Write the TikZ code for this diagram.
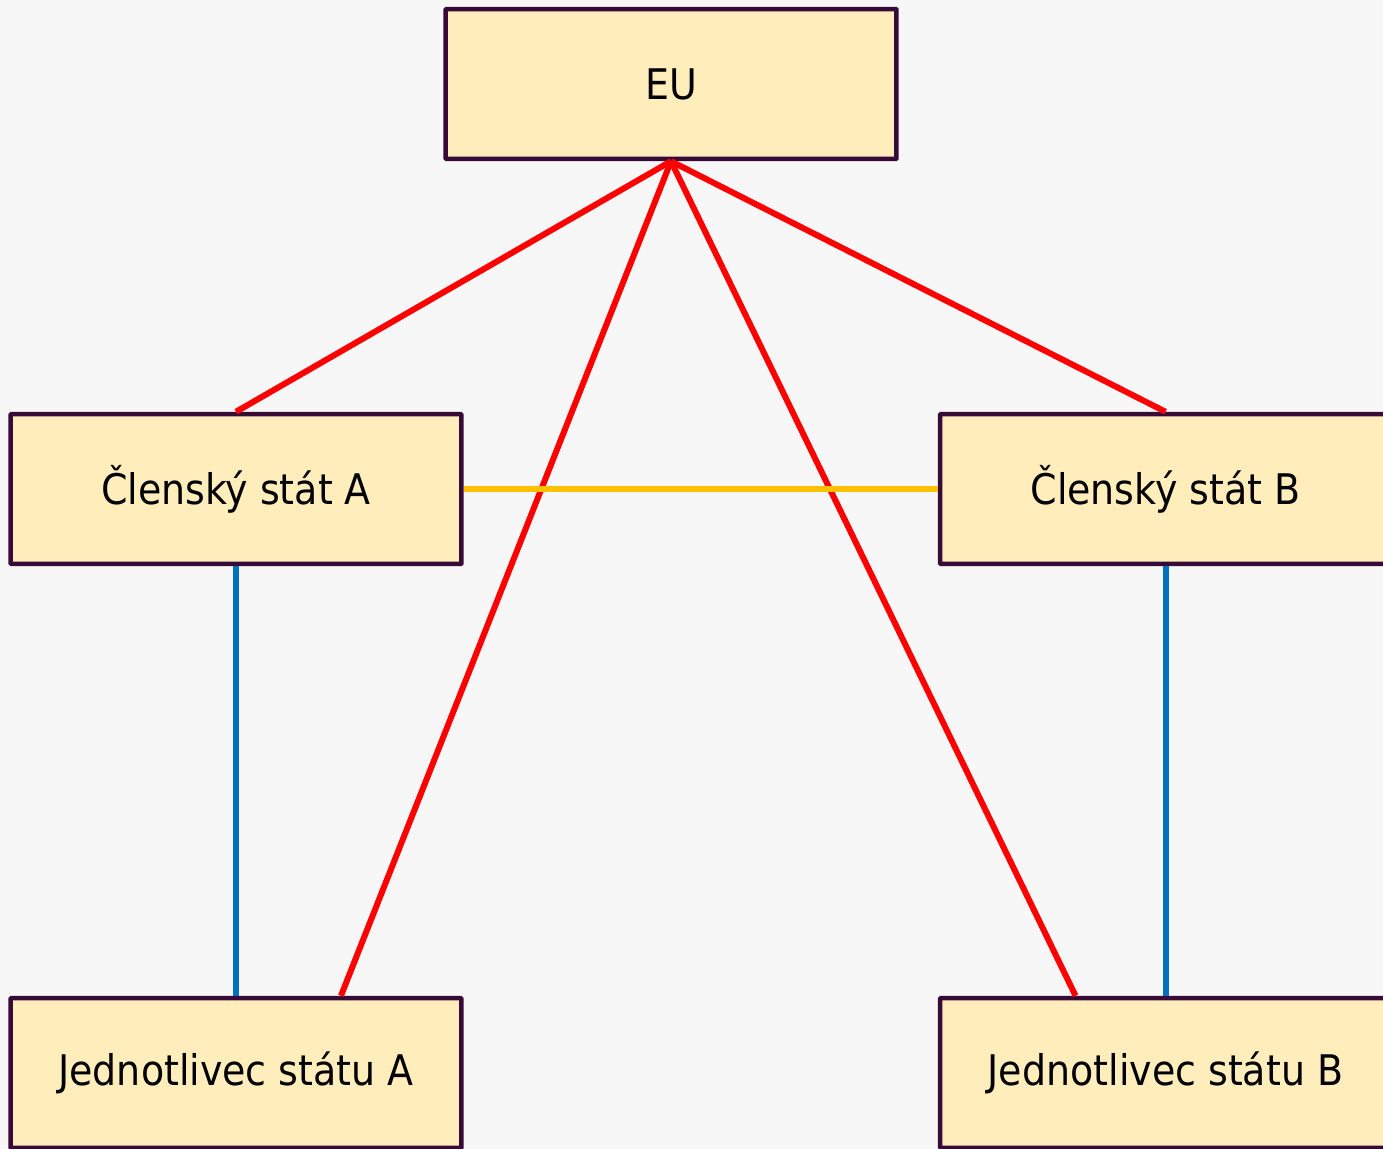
\documentclass[tikz,border=0pt]{standalone}
\usepackage{fontspec}
\setmainfont{DejaVu Sans Condensed}
\usetikzlibrary{positioning,calc}
\definecolor{boxfill}{RGB}{255,237,187}
\definecolor{boxline}{RGB}{56,10,56}
\definecolor{eured}{RGB}{255,0,0}
\definecolor{tieyellow}{RGB}{255,192,0}
\definecolor{stateblue}{RGB}{0,112,192}
\definecolor{paper}{RGB}{247,247,247}

\begin{document}
\begin{tikzpicture}[
    x=0.02cm, y=-0.02cm,
    actor/.style={rectangle, minimum width=9.02cm, minimum height=3cm, fill=boxfill, draw=boxline, line width=0.09cm, rounded corners=0.5pt, font=\fontsize{24}{28}\selectfont},
    eulink/.style={eured, line width=0.12cm},
    tielink/.style={tieyellow, line width=0.12cm},
    statelink/.style={stateblue, line width=0.12cm}
]

% Background and page size
\fill[paper] (0,0) rectangle (1383,1149);
\useasboundingbox (0,0) rectangle (1383,1149);

% Boxes
\node[actor] (eu) at (671, 84) {EU};
\node[actor] (sa) at (236, 489) {Členský stát A};
\node[actor] (sb) at (1165.5, 489) {Členský stát B};
\node[actor] (ja) at (236, 1073) {Jednotlivec státu A};
\node[actor] (jb) at (1165.5, 1073) {Jednotlivec státu B};

% Attachment points on the individuals
\coordinate (ja top) at ([xshift=2.1cm]ja.north);
\coordinate (jb top) at ([xshift=-1.8cm]jb.north);

% Links from EU
\draw[eulink] (eu.south) -- (sa.north);
\draw[eulink] (eu.south) -- (sb.north);
\draw[eulink] (eu.south) -- (ja top);
\draw[eulink] (eu.south) -- (jb top);

% Link between states
\draw[tielink] (sa.east) -- (sb.west);

% States to their individuals
\draw[statelink] (sa.south) -- (ja.north);
\draw[statelink] (sb.south) -- (jb.north);

\end{tikzpicture}
\end{document}
